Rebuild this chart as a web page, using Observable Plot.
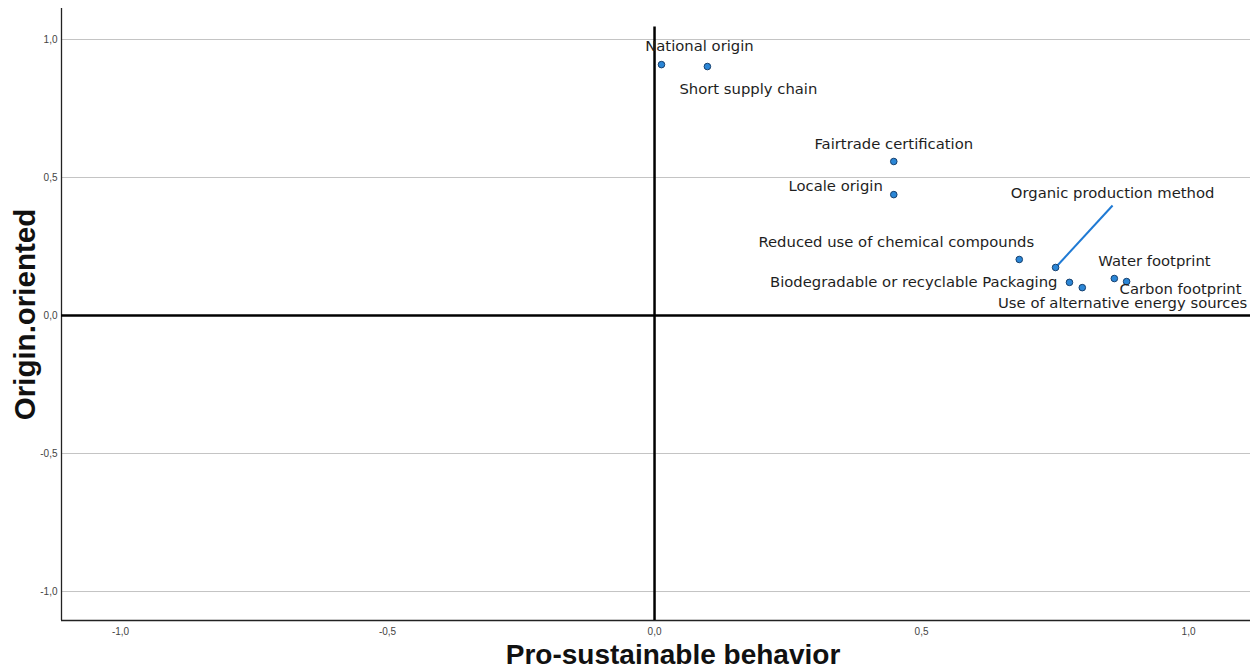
<!DOCTYPE html>
<html><head><meta charset="utf-8">
<script src="https://cdn.jsdelivr.net/npm/d3@7"></script>
<script src="https://cdn.jsdelivr.net/npm/@observablehq/plot@0.6"></script>
<style>body{margin:0;background:#fff}#chart svg{display:block}</style>
</head><body><div id="chart"></div>
<script>
// ---- data ----
const attributes = [
  "National origin",
  "Short supply chain",
  "Fairtrade certification",
  "Locale origin",
  "Reduced use of chemical compounds",
  "Organic production method",
  "Biodegradable or recyclable Packaging",
  "Use of alternative energy sources",
  "Water footprint",
  "Carbon footprint"
];
const proSustainable = [0.013, 0.099, 0.448, 0.448, 0.683, 0.751, 0.777, 0.801, 0.861, 0.884];
const originOriented = [0.909, 0.902, 0.558, 0.438, 0.203, 0.174, 0.120, 0.101, 0.134, 0.123];
const xTicks = [-1, -0.5, 0, 0.5, 1];
const yTicks = [-1, -0.5, 0, 0.5, 1];
const xTitle = "Pro-sustainable behavior";
const yTitle = "Origin.oriented";
const leaderAttribute = "Organic production method";

// ---- layout (label placement, pixels) ----
const labelLayout = [
  {dx: 38, dy: -18, anchor: "middle"},
  {dx: 41, dy: 23, anchor: "middle"},
  {dx: 0, dy: -17, anchor: "middle"},
  {dx: -11, dy: -8, anchor: "end"},
  {dx: -123, dy: -17, anchor: "middle"},
  {dx: 57, dy: -74, anchor: "middle"},
  {dx: -12, dy: 0, anchor: "end"},
  {dx: 165, dy: 16, anchor: "end"},
  {dx: -16, dy: -17, anchor: "start"},
  {dx: -7, dy: 8, anchor: "start"}
];
const leaderOffset = {dx: 57, dy: -62};

const W = 1250, H = 668;
const margin = {top: 8, right: 0, bottom: 48, left: 61};
const xDomain = [-1.1105, 1.116];
const yDomain = [-1.105, 1.1123];
const originLineTop = 1.045;

const data = attributes.map((name, i) => ({
  name, x: proSustainable[i], y: originOriented[i], ...labelLayout[i]
}));
const pxPerX = (W - margin.left - margin.right) / (xDomain[1] - xDomain[0]);
const pxPerY = (H - margin.top - margin.bottom) / (yDomain[1] - yDomain[0]);
const leader = data.filter(d => d.name === leaderAttribute).map(d => ({
  x1: d.x, y1: d.y,
  x2: d.x + leaderOffset.dx / pxPerX, y2: d.y - leaderOffset.dy / pxPerY
}));
const fmt = v => d3.format(".1f")(v).replace(".", ",").replace("\u2212", "-");

const labelFont = "DejaVu Sans, Verdana, sans-serif";
const titleFont = "Liberation Sans, Arial, sans-serif";

const plot = Plot.plot({
  width: W, height: H,
  marginTop: margin.top, marginRight: margin.right, marginBottom: margin.bottom, marginLeft: margin.left,
  style: {background: "#fff", overflow: "visible"},
  x: {domain: xDomain},
  y: {domain: yDomain},
  marks: [
    Plot.ruleY(yTicks.filter(v => v !== 0), {stroke: "#c4c4c4", strokeWidth: 1}),
    Plot.ruleX([xDomain[0]], {stroke: "#222", strokeWidth: 1.3}),
    Plot.ruleY([yDomain[0]], {stroke: "#222", strokeWidth: 1.3}),
    Plot.ruleY([0], {stroke: "#000", strokeWidth: 2.5}),
    Plot.ruleX([0], {y1: yDomain[0], y2: originLineTop, stroke: "#000", strokeWidth: 2.5}),
    Plot.axisY(yTicks, {tickSize: 0, tickPadding: 4, tickFormat: fmt, fontSize: 10, fill: "#444", fontFamily: "Liberation Sans, Arial, sans-serif", label: null}),
    Plot.axisX(xTicks, {tickSize: 0, tickPadding: 7, tickFormat: fmt, fontSize: 10, fill: "#444", fontFamily: "Liberation Sans, Arial, sans-serif", label: null}),
    Plot.link(leader, {x1: "x1", y1: "y1", x2: "x2", y2: "y2", stroke: "#1f7ad4", strokeWidth: 2}),
    Plot.dot(data, {x: "x", y: "y", r: 3.3, fill: "#2b86d6", stroke: "#16406e", strokeWidth: 1}),
    ...data.map(d => Plot.text([d], {
      x: "x", y: "y", text: "name", textAnchor: d.anchor,
      dx: d.dx, dy: d.dy,
      fontSize: 14.8, fill: "#1e1e1e", fontFamily: labelFont
    })),
    Plot.text([xTitle], {frameAnchor: "bottom", dx: 17, dy: 43, fontSize: 28, fontWeight: "bold", fill: "#111",
      fontFamily: titleFont}),
    Plot.text([yTitle], {frameAnchor: "left", dx: -36, rotate: -90, textAnchor: "middle", fontSize: 29.5, fontWeight: "bold", fill: "#111",
      fontFamily: titleFont})
  ]
});
document.getElementById("chart").append(plot);
</script>
</body></html>
